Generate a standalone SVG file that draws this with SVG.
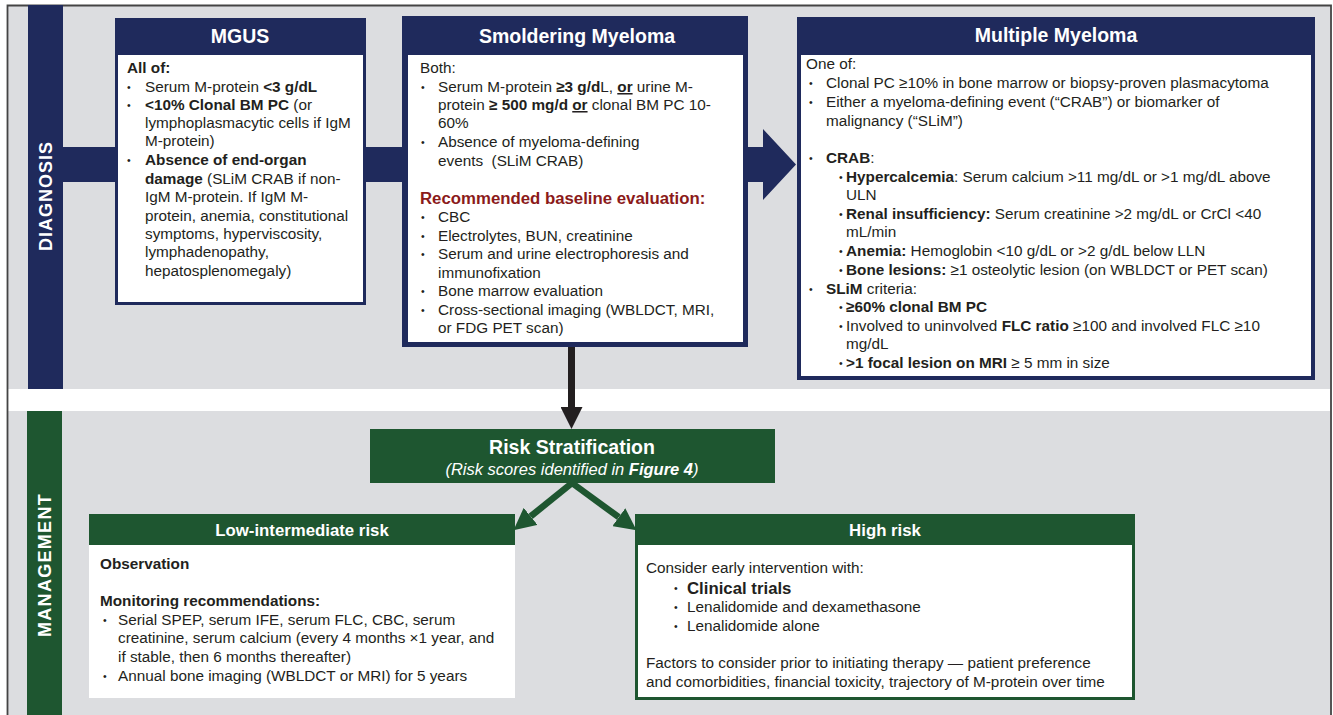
<svg xmlns="http://www.w3.org/2000/svg" width="1333" height="715" viewBox="0 0 1333 715">
<defs>
<style>
text{font-family:"Liberation Sans",Arial,sans-serif;fill:#231f20;font-size:15.3px}
.b{font-weight:bold}
.u{text-decoration:underline}
.ttl{font-weight:bold;font-size:19.5px;fill:#fff;text-anchor:middle}
.hdr{font-weight:bold;font-size:16.8px;fill:#fff;text-anchor:middle}
.side{font-weight:bold;font-size:18px;fill:#fff;text-anchor:middle;letter-spacing:1px}
.bl{font-size:10.5px}
.red{fill:#8b1a1a;font-weight:bold;font-size:16.8px}
.navy{fill:#1f2a5c}
.green{fill:#1e5630}
</style>
<marker id="gh" markerUnits="userSpaceOnUse" markerWidth="22" markerHeight="22" refX="0" refY="10" viewBox="0 0 20 20" orient="auto"><path d="M0,0 L20,10 L0,20 z" fill="#1e5630"/></marker>
<marker id="kh" markerUnits="userSpaceOnUse" markerWidth="22" markerHeight="22" refX="0" refY="10.5" viewBox="0 0 21 21" orient="auto"><path d="M0,0 L21,10.5 L0,21 z" fill="#231f20"/></marker>
</defs>

<g id="background">
<rect x="0" y="0" width="1333" height="715" fill="#fff"/>
<rect x="8" y="5" width="1322" height="384" fill="#dcdde0"/>
<rect x="8" y="411" width="1322" height="306" fill="#dcdde0"/>
<path d="M7.5,720 V5.5 H1331 V720" fill="none" stroke="#444" stroke-width="1.8"/>
</g>

<g id="sidebar-diagnosis">
<rect x="28" y="5" width="35" height="384" class="navy"/>
<text class="side" transform="translate(52,196) rotate(-90)">DIAGNOSIS</text>
</g>
<g id="sidebar-management">
<rect x="27" y="411" width="35" height="306" class="green"/>
<text class="side" transform="translate(51,565) rotate(-90)" style="letter-spacing:1.3px">MANAGEMENT</text>
</g>

<g id="connectors">
<polygon points="63,147 763,147 763,129 796,164.5 763,200 763,182 63,182" class="navy"/>
<line x1="571.5" y1="347" x2="571.5" y2="407" stroke="#231f20" stroke-width="7" marker-end="url(#kh)"/>
<line x1="572" y1="483" x2="530.6" y2="516.4" stroke="#1e5630" stroke-width="6.5" marker-end="url(#gh)"/>
<line x1="572" y1="483" x2="618.8" y2="517.2" stroke="#1e5630" stroke-width="6.5" marker-end="url(#gh)"/>
</g>

<g id="mgus">
<rect x="115" y="18" width="251" height="287" class="navy"/>
<rect x="118" y="55" width="245" height="247" fill="#fff"/>
<text class="ttl" x="240" y="43">MGUS</text>
<text class="b" x="127" y="73">All of:</text>
<text class="bl" x="127" y="91">•</text>
<text x="145" y="92">Serum M-protein <tspan class="b">&lt;3 g/dL</tspan></text>
<text class="bl" x="127" y="109">•</text>
<text x="145" y="110"><tspan class="b">&lt;10% Clonal BM PC</tspan> (or</text>
<text x="145" y="128">lymphoplasmacytic cells if IgM</text>
<text x="145" y="146">M-protein)</text>
<text class="bl" x="127" y="164">•</text>
<text x="145" y="165" class="b">Absence of end-organ</text>
<text x="145" y="184"><tspan class="b">damage</tspan> (SLiM CRAB if non-</text>
<text x="145" y="202">IgM M-protein. If IgM M-</text>
<text x="145" y="221">protein, anemia, constitutional</text>
<text x="145" y="239">symptoms, hyperviscosity,</text>
<text x="145" y="257">lymphadenopathy,</text>
<text x="145" y="276">hepatosplenomegaly)</text>
</g>

<g id="smoldering">
<rect x="402" y="16" width="346" height="331" class="navy"/>
<rect x="408" y="55" width="335" height="287" fill="#fff"/>
<text class="ttl" x="577" y="43">Smoldering Myeloma</text>
<text x="420" y="73">Both:</text>
<text class="bl" x="421" y="91">•</text>
<text x="438" y="92">Serum M-protein <tspan class="b">≥3 g/d</tspan>L, <tspan class="b u">or</tspan> urine M-</text>
<text x="438" y="110">protein <tspan class="b">≥ 500 mg/d</tspan> <tspan class="b u">or</tspan> clonal BM PC 10-</text>
<text x="438" y="128">60%</text>
<text class="bl" x="421" y="146">•</text>
<text x="438" y="147">Absence of myeloma-defining</text>
<text x="438" y="166" xml:space="preserve">events  (SLiM CRAB)</text>
<text class="red" x="420" y="204">Recommended baseline evaluation:</text>
<text class="bl" x="421" y="221">•</text>
<text x="438" y="222">CBC</text>
<text class="bl" x="421" y="240">•</text>
<text x="438" y="241">Electrolytes, BUN, creatinine</text>
<text class="bl" x="421" y="258">•</text>
<text x="438" y="259">Serum and urine electrophoresis and</text>
<text x="438" y="278">immunofixation</text>
<text class="bl" x="421" y="295">•</text>
<text x="438" y="296">Bone marrow evaluation</text>
<text class="bl" x="421" y="314">•</text>
<text x="438" y="315">Cross-sectional imaging (WBLDCT, MRI,</text>
<text x="438" y="333">or FDG PET scan)</text>
</g>

<g id="multiple-myeloma">
<rect x="797" y="17" width="518" height="363" class="navy"/>
<rect x="801" y="55" width="510" height="321" fill="#fff"/>
<text class="ttl" x="1056" y="42">Multiple Myeloma</text>
<text x="806" y="69">One of:</text>
<text class="bl" x="809" y="87">•</text>
<text x="826" y="88">Clonal PC ≥10% in bone marrow or biopsy-proven plasmacytoma</text>
<text class="bl" x="809" y="106">•</text>
<text x="826" y="107">Either a myeloma-defining event (“CRAB”) or biomarker of</text>
<text x="826" y="126">malignancy (“SLiM”)</text>
<text class="bl" x="809" y="162">•</text>
<text x="826" y="163"><tspan class="b">CRAB</tspan>:</text>
<text class="bl" x="839" y="181">•</text>
<text x="846" y="182"><tspan class="b">Hypercalcemia</tspan>: Serum calcium &gt;11 mg/dL or &gt;1 mg/dL above</text>
<text x="846" y="200">ULN</text>
<text class="bl" x="839" y="218">•</text>
<text x="846" y="219"><tspan class="b">Renal insufficiency:</tspan> Serum creatinine &gt;2 mg/dL or CrCl &lt;40</text>
<text x="846" y="237">mL/min</text>
<text class="bl" x="839" y="255">•</text>
<text x="846" y="256"><tspan class="b">Anemia:</tspan> Hemoglobin &lt;10 g/dL or &gt;2 g/dL below LLN</text>
<text class="bl" x="839" y="274">•</text>
<text x="846" y="275"><tspan class="b">Bone lesions:</tspan> ≥1 osteolytic lesion (on WBLDCT or PET scan)</text>
<text class="bl" x="809" y="293">•</text>
<text x="826" y="294"><tspan class="b">SLiM</tspan> criteria:</text>
<text class="bl" x="839" y="311">•</text>
<text x="846" y="312" class="b">≥60% clonal BM PC</text>
<text class="bl" x="839" y="330">•</text>
<text x="846" y="331">Involved to uninvolved <tspan class="b">FLC ratio</tspan> ≥100 and involved FLC ≥10</text>
<text x="846" y="349">mg/dL</text>
<text class="bl" x="839" y="367">•</text>
<text x="846" y="368"><tspan class="b">&gt;1 focal lesion on MRI</tspan> ≥ 5 mm in size</text>
</g>

<g id="risk-stratification">
<rect x="370" y="429" width="405" height="54" class="green"/>
<text class="ttl" x="572" y="454">Risk Stratification</text>
<text x="572" y="475" style="fill:#fff;font-style:italic;font-size:16.5px;text-anchor:middle">(Risk scores identified in <tspan class="b">Figure 4</tspan>)</text>
</g>

<g id="low-risk">
<rect x="89" y="514" width="426" height="31" class="green"/>
<rect x="89" y="545" width="426" height="153" fill="#fff"/>
<text class="hdr" x="302" y="536">Low-intermediate risk</text>
<text class="b" x="100" y="569">Observation</text>
<text class="b" x="100" y="606">Monitoring recommendations:</text>
<text class="bl" x="103" y="624">•</text>
<text x="118" y="625">Serial SPEP, serum IFE, serum FLC, CBC, serum</text>
<text x="118" y="643">creatinine, serum calcium (every 4 months ×1 year, and</text>
<text x="118" y="662">if stable, then 6 months thereafter)</text>
<text class="bl" x="103" y="680">•</text>
<text x="118" y="681">Annual bone imaging (WBLDCT or MRI) for 5 years</text>
</g>

<g id="high-risk">
<rect x="635" y="514" width="500" height="186" class="green"/>
<rect x="638" y="545" width="494" height="152" fill="#fff"/>
<text class="hdr" x="885" y="536">High risk</text>
<text x="646" y="573">Consider early intervention with:</text>
<text class="bl" x="674" y="592">•</text>
<text x="687" y="594" class="b" style="font-size:16.8px">Clinical trials</text>
<text class="bl" x="674" y="611">•</text>
<text x="687" y="612">Lenalidomide and dexamethasone</text>
<text class="bl" x="674" y="630">•</text>
<text x="687" y="631">Lenalidomide alone</text>
<text x="646" y="668">Factors to consider prior to initiating therapy — patient preference</text>
<text x="646" y="687">and comorbidities, financial toxicity, trajectory of M-protein over time</text>
</g>
</svg>
